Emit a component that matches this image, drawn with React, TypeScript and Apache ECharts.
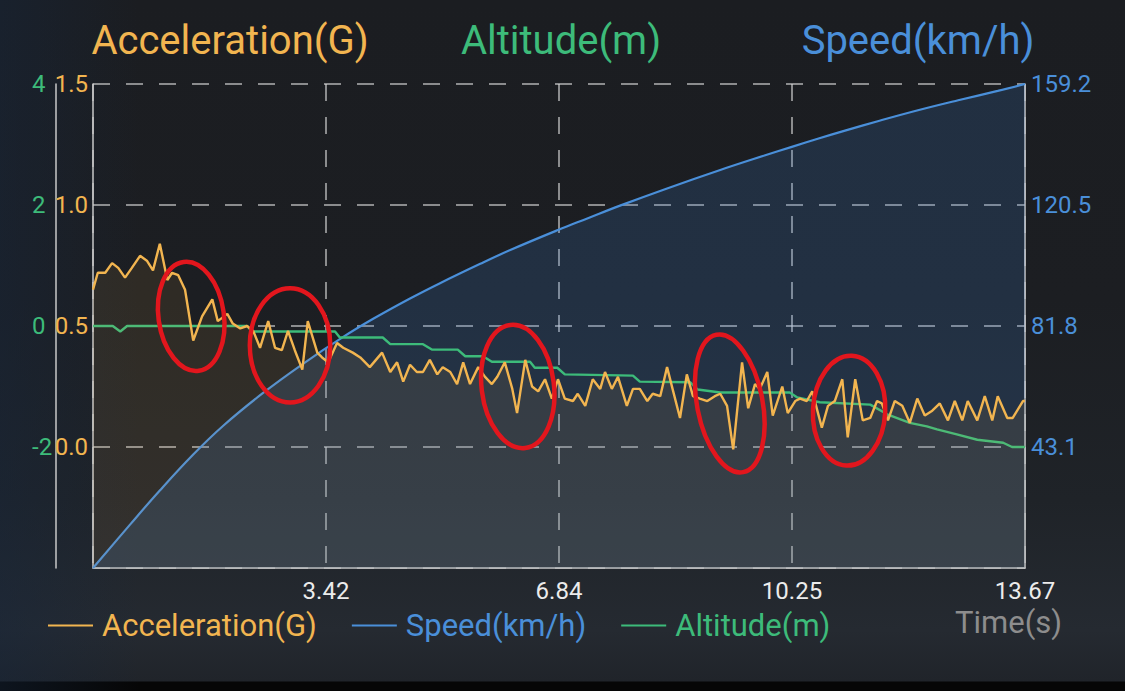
import React, { useEffect, useRef } from "react";
import * as echarts from "echarts";

// ---------- data ----------
const accTime = [
  0, 0.07, 0.18, 0.28, 0.37, 0.47, 0.57, 0.69, 0.79, 0.88, 0.98, 1.09, 1.16, 1.25, 1.35, 1.47, 1.6, 1.75, 1.83, 1.97,
  2.05, 2.16, 2.26, 2.35, 2.45, 2.57, 2.67, 2.77, 2.86, 2.96, 3.07, 3.15, 3.29, 3.36, 3.45, 3.58, 3.67, 3.81, 3.92, 4.06,
  4.24, 4.36, 4.46, 4.55, 4.65, 4.75, 4.84, 4.94, 5.05, 5.13, 5.24, 5.34, 5.43, 5.53, 5.65, 5.75, 5.85, 5.93, 6.04, 6.15,
  6.22, 6.34, 6.44, 6.53, 6.63, 6.73, 6.82, 6.92, 7.04, 7.11, 7.22, 7.33, 7.44, 7.51, 7.61, 7.7, 7.83, 7.92, 8.02, 8.13,
  8.21, 8.32, 8.42, 8.51, 8.61, 8.71, 8.8, 8.9, 9.01, 9.12, 9.2, 9.3, 9.39, 9.52, 9.61, 9.71, 9.78, 9.89, 9.97, 10.11,
  10.19, 10.3, 10.37, 10.47, 10.55, 10.69, 10.78, 10.88, 10.99, 11.07, 11.18, 11.29, 11.4, 11.5, 11.57, 11.66, 11.76,
  11.87, 11.98, 12.09, 12.2, 12.31, 12.42, 12.54, 12.64, 12.75, 12.83, 12.97, 13.08, 13.19, 13.27, 13.41, 13.49, 13.64,
  13.67,
];
const accValues = [
  0.65, 0.72, 0.72, 0.76, 0.74, 0.7, 0.74, 0.79, 0.77, 0.73, 0.84, 0.69, 0.72, 0.71, 0.65, 0.44, 0.54, 0.61, 0.52, 0.55,
  0.51, 0.49, 0.5, 0.48, 0.41, 0.52, 0.41, 0.4, 0.48, 0.4, 0.32, 0.52, 0.39, 0.37, 0.35, 0.43, 0.41, 0.39, 0.37, 0.33,
  0.39, 0.31, 0.35, 0.27, 0.34, 0.31, 0.31, 0.36, 0.3, 0.33, 0.31, 0.26, 0.35, 0.26, 0.33, 0.29, 0.26, 0.29, 0.35, 0.24,
  0.14, 0.36, 0.25, 0.23, 0.28, 0.2, 0.28, 0.2, 0.19, 0.22, 0.17, 0.28, 0.24, 0.31, 0.24, 0.29, 0.17, 0.24, 0.24, 0.19,
  0.22, 0.21, 0.33, 0.23, 0.12, 0.3, 0.21, 0.2, 0.19, 0.21, 0.22, 0.17, -0.01, 0.35, 0.16, 0.26, 0.24, 0.31, 0.13, 0.25,
  0.14, 0.19, 0.2, 0.19, 0.23, 0.08, 0.17, 0.19, 0.28, 0.04, 0.28, 0.11, 0.12, 0.19, 0.18, 0.11, 0.19,
  0.17, 0.1, 0.2, 0.13, 0.15, 0.18, 0.11, 0.19, 0.11, 0.19, 0.11, 0.21, 0.11, 0.21, 0.12, 0.12, 0.19,
  0.19,
];

const speedTime = [
  0, 0.54, 0.98, 1.47, 1.91, 2.49, 3.08, 3.67, 4.11, 4.65, 5.09, 5.68, 6.12, 6.82, 7.25, 7.73, 8.42, 9.2, 9.86, 10.25,
  10.63, 11.03, 11.51, 12.1, 12.69, 13.27, 13.67,
];
const speedValues = [
  4.4, 18.2, 29.2, 40.7, 49.9, 60.3, 69.7, 78.3, 84.1, 90.6, 95.5, 101.7, 106.1, 112.5, 116.2, 120.3, 125.8, 131.7,
  136.4, 139.1, 141.7, 144.3, 147.3, 150.8, 154.0, 157.0, 159.2,
];

const altTime = [
  0, 0.29, 0.4, 0.5, 2.26, 2.33, 3.55, 3.62, 4.25, 4.36, 4.84, 4.97, 5.35, 5.46, 5.72, 5.85, 6.41, 6.48, 6.81, 6.92,
  7.92, 8.02, 8.76, 8.87, 9.2, 10.22, 10.33, 10.66, 11.4, 11.65, 11.98, 12.23, 12.38, 12.67, 12.97, 13.35, 13.48, 13.67,
];
const altValues = [
  0, 0, -0.09, 0, 0, -0.09, -0.09, -0.19, -0.19, -0.3, -0.3, -0.39, -0.39, -0.5, -0.5, -0.59, -0.59, -0.69, -0.69, -0.8,
  -0.82, -0.92, -0.93, -1.05, -1.1, -1.1, -1.18, -1.26, -1.3, -1.46, -1.6, -1.66, -1.71, -1.79, -1.88, -1.93, -2.0, -2.0,
];

const seriesNames = ["Acceleration(G)", "Speed(km/h)", "Altitude(m)"];
const xTickLabels = ["", "3.42", "6.84", "10.25", "13.67"];
const accTickLabels = ["", "0.0", "0.5", "1.0", "1.5"];
const altTickLabels = ["", "-2", "0", "2", "4"];
const speedTickLabels = ["", "43.1", "81.8", "120.5", "159.2"];
const timeLabel = "Time(s)";

// hand-drawn red loops: [time centre, acceleration centre, half width (s), half height (G), tilt (deg)]
const markedLoops = [
  [1.44, 0.54, 0.48, 0.227, 8],
  [2.89, 0.42, 0.59, 0.236, 0],
  [6.23, 0.25, 0.53, 0.256, 7],
  [9.34, 0.18, 0.48, 0.289, 11],
  [11.09, 0.15, 0.53, 0.227, -3],
];

// ---------- style ----------
const ORANGE = "#f2b550";
const GREEN = "#3dbb7a";
const BLUE = "#4a8fd9";
const GRID = "rgba(215,215,215,0.8)";
const AXIS = "#c9c9c9";
const FONT = "Roboto";

const X_MAX = 13.67;
const X_INT = X_MAX / 4;
const SP_MIN = 4.4;
const SP_INT = 38.7;

const pair = (ts: number[], vs: number[]) => ts.map((t, i) => [t, vs[i]]);

export default function App() {
  const ref = useRef<HTMLDivElement>(null);

  useEffect(() => {
    if (!ref.current) return;
    const chart = echarts.init(ref.current, undefined, { renderer: "svg" });
    const dash = [17, 16];

    chart.setOption({
      animation: false,
      backgroundColor: "transparent",
      textStyle: { fontFamily: FONT },
      grid: { left: 93, right: 100, top: 84, bottom: 123, containLabel: false },
      legend: {
        left: 43,
        top: 605,
        icon: "rect",
        itemWidth: 45,
        itemHeight: 2,
        itemGap: 35,
        textStyle: { fontSize: 31, fontFamily: FONT, padding: [0, 0, 0, 4] },
        data: [
          { name: seriesNames[0], textStyle: { color: ORANGE } },
          { name: seriesNames[1], textStyle: { color: BLUE } },
          { name: seriesNames[2], textStyle: { color: GREEN } },
        ],
      },
      xAxis: {
        type: "value",
        min: 0,
        max: X_MAX,
        interval: X_INT,
        axisLine: { show: true, onZero: false, lineStyle: { color: AXIS, width: 1.5 } },
        axisTick: { show: false },
        axisLabel: {
          color: "#ececec",
          fontSize: 24,
          fontFamily: FONT,
          margin: 11,
          formatter: (v: number) => xTickLabels[Math.round(v / X_INT)] ?? "",
        },
        splitLine: { show: true, lineStyle: { color: GRID, width: 1.5, type: dash } },
      },
      yAxis: [
        {
          type: "value",
          position: "left",
          min: -0.5,
          max: 1.5,
          interval: 0.5,
          axisLine: { show: true, onZero: false, lineStyle: { color: AXIS, width: 1.5 } },
          axisTick: { show: false },
          axisLabel: {
            color: ORANGE,
            fontSize: 24,
            fontFamily: FONT,
            margin: 5,
            formatter: (v: number) => accTickLabels[Math.round((v + 0.5) / 0.5)] ?? "",
          },
          splitLine: { show: true, lineStyle: { color: GRID, width: 1.5, type: dash } },
        },
        {
          type: "value",
          position: "left",
          offset: 37,
          min: -4,
          max: 4,
          interval: 2,
          axisLine: { show: true, onZero: false, lineStyle: { color: AXIS, width: 1.5 } },
          axisTick: { show: false },
          axisLabel: {
            color: GREEN,
            fontSize: 24,
            fontFamily: FONT,
            margin: 24,
            align: "left",
            formatter: (v: number) => altTickLabels[Math.round((v + 4) / 2)] ?? "",
          },
          splitLine: { show: false },
        },
        {
          type: "value",
          position: "right",
          min: SP_MIN,
          max: 159.2,
          interval: SP_INT,
          axisLine: { show: true, onZero: false, lineStyle: { color: AXIS, width: 1.5 } },
          axisTick: { show: false },
          axisLabel: {
            color: BLUE,
            fontSize: 24,
            fontFamily: FONT,
            margin: 6,
            formatter: (v: number) => speedTickLabels[Math.round((v - SP_MIN) / SP_INT)] ?? "",
          },
          splitLine: { show: false },
        },
      ],
      series: [
        {
          name: seriesNames[1],
          type: "line",
          yAxisIndex: 2,
          data: pair(speedTime, speedValues),
          showSymbol: false,
          symbol: "none",
          smooth: 0.4,
          color: BLUE,
          lineStyle: { color: BLUE, width: 2.2 },
          areaStyle: { color: "rgba(66,128,205,0.27)", origin: "start" },
          z: 2,
        },
        {
          name: seriesNames[2],
          type: "line",
          yAxisIndex: 1,
          data: pair(altTime, altValues),
          showSymbol: false,
          symbol: "none",
          color: GREEN,
          lineStyle: { color: GREEN, width: 2.4 },
          z: 3,
        },
        {
          name: seriesNames[0],
          type: "line",
          yAxisIndex: 0,
          data: pair(accTime, accValues),
          showSymbol: false,
          symbol: "none",
          color: ORANGE,
          lineStyle: { color: ORANGE, width: 2.4 },
          areaStyle: { color: "rgba(245,180,80,0.13)", origin: "start" },
          z: 4,
        },
      ],
    });

    const toPx = (p: number[]) =>
      chart.convertToPixel({ xAxisIndex: 0, yAxisIndex: 0 }, p) as number[];

    const loops = markedLoops.map((l) => {
      const c = toPx([l[0], l[1]]);
      const e = toPx([l[0] + l[2], l[1] + l[3]]);
      return {
        type: "ellipse",
        x: c[0],
        y: c[1],
        rotation: (l[4] * Math.PI) / 180,
        shape: { cx: 0, cy: 0, rx: Math.abs(e[0] - c[0]), ry: Math.abs(e[1] - c[1]) },
        style: { fill: "none", stroke: "#e2161d", lineWidth: 4.5 },
        z: 100,
        silent: true,
      };
    });

    const title = (text: string, color: string, x: number) => ({
      type: "text",
      x,
      y: 40,
      style: {
        text,
        fill: color,
        fontSize: 40,
        fontFamily: FONT,
        align: "center",
        verticalAlign: "middle",
      },
    });

    chart.setOption({
      graphic: [
        title(seriesNames[0], ORANGE, 230),
        title(seriesNames[2], GREEN, 561),
        title(seriesNames[1], BLUE, 918),
        {
          type: "text",
          x: 955,
          y: 622,
          style: {
            text: timeLabel,
            fill: "#8d8d8d",
            fontSize: 31,
            fontFamily: FONT,
            align: "left",
            verticalAlign: "middle",
          },
        },
        ...loops,
      ],
    });

    return () => chart.dispose();
  }, []);

  return (
    <div
      style={{
        position: "fixed",
        left: 0,
        top: 0,
        width: 1125,
        height: 691,
        background:
          "linear-gradient(90deg, rgba(22,38,60,0.45) 0px, rgba(22,38,60,0) 140px), linear-gradient(180deg, #1b1d21 0px, #1c1e22 300px, #1f2328 500px, #252a31 630px, #20242a 681px, #060606 682px, #060606 691px)",
      }}
    >
      <div ref={ref} style={{ width: 1125, height: 691 }} />
    </div>
  );
}
